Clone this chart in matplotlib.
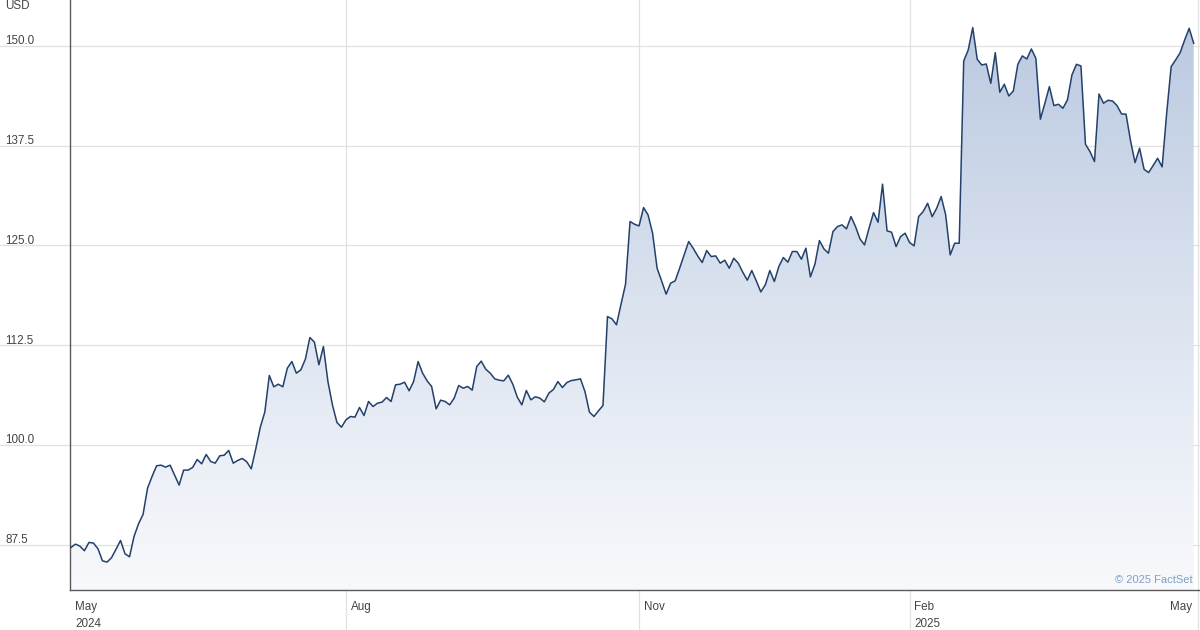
import matplotlib
matplotlib.use('Agg')

import matplotlib.pyplot as plt
import numpy as np
from matplotlib.colors import LinearSegmentedColormap

plt.rcParams['font.family'] = ['Liberation Sans', 'DejaVu Sans']

# daily closes, May 2024 - May 2025
prices = [
    87.13, 87.55, 87.30, 86.72, 87.76, 87.68, 86.97, 85.46, 85.30, 85.84,
    86.90, 88.01, 86.34, 85.96, 88.51, 90.10, 91.27, 94.57, 96.03, 97.37,
    97.45, 97.20, 97.45, 96.20, 94.95, 96.83, 96.83, 97.16, 98.16, 97.62,
    98.79, 97.91, 97.70, 98.62, 98.70, 99.29, 97.70, 98.04, 98.29, 97.87,
    96.99, 99.50, 102.20,
    104.10, 108.69, 107.27, 107.60, 107.27, 109.61, 110.44, 108.98, 109.40, 110.74,
    113.45, 112.87, 110.03, 112.32, 107.93, 105.01, 102.80, 102.21, 103.13, 103.55,
    103.47, 104.68, 103.67, 105.43, 104.80, 105.22, 105.35, 105.93, 105.43, 107.52,
    107.60, 107.85, 106.77, 107.93, 110.44, 108.98, 108.02, 107.31, 104.51, 105.60,
    105.43, 105.01,
    105.85, 107.43, 107.10, 107.31, 106.85, 109.81, 110.49, 109.48, 108.98, 108.27,
    108.10, 108.02, 108.73, 107.60, 105.97, 105.01, 106.81, 105.64, 106.02, 105.85,
    105.39, 106.48, 106.93, 107.93, 107.18, 107.81, 108.06, 108.15, 108.27, 106.68,
    104.10, 103.55, 104.26, 104.93, 116.08, 115.79, 115.04, 117.63, 120.13, 127.99,
    127.65, 127.44, 129.74,
    128.82, 126.53, 122.14, 120.55, 118.88, 120.26, 120.55, 122.14, 123.81, 125.48,
    124.65, 123.68, 122.85, 124.35, 123.60, 123.68, 122.77, 123.14, 122.14, 123.39,
    122.77, 121.64, 120.64, 121.85, 120.55, 119.17, 120.05, 121.85, 120.47, 122.35,
    123.48, 122.89, 124.23, 124.23, 123.27, 124.65, 121.05, 122.64, 125.60, 124.56,
    124.02, 126.73,
    127.36, 127.57, 127.07, 128.61, 127.36, 125.81, 125.06, 127.15, 129.11, 127.90,
    132.67, 126.82, 126.65, 124.85, 126.10, 126.53, 125.35, 124.94, 128.61, 129.24,
    130.28, 128.60, 129.66, 131.12, 128.82, 123.81, 125.27, 125.27, 148.12, 149.50,
    152.30, 148.33, 147.62, 147.74, 145.32, 149.16,
    144.20, 145.20, 143.73, 144.36, 147.70, 148.75, 148.37, 149.62, 148.45, 140.81,
    142.82, 144.90, 142.52, 142.69, 142.19, 143.23, 146.37, 147.70, 147.49, 137.68,
    136.76, 135.51, 143.98, 142.82, 143.19, 143.10, 142.52, 141.48, 141.45, 138.10,
    135.38, 137.18, 134.54, 134.13, 135.00, 135.92, 134.84, 141.50, 147.41, 148.25,
    149.16, 150.75, 152.21, 150.33,
]

# first trading day of each labelled month (index into prices)
month_idx = [0, 61, 126, 186, 250]
month_labels = ["May", "Aug", "Nov", "Feb", "May"]
year_labels = ["2024", "", "", "2025", ""]

y_ticks = [87.5, 100.0, 112.5, 125.0, 137.5, 150.0]

W, H = 1200, 630
fig = plt.figure(figsize=(W / 100, H / 100), dpi=100)
ax = fig.add_axes([70 / W, 40 / H, 1130 / W, 590 / H])

x = np.arange(len(prices))
y = np.array(prices)
ymin, ymax = 81.8, 155.76
ax.set_xlim(-0.2, len(prices) - 1 + 1.4)
ax.set_ylim(ymin, ymax)

# gradient fill under the line
cmap = LinearSegmentedColormap.from_list("fill", ["#f8f9fc", "#dae2ef", "#b8c7df"])
grad = np.linspace(0, 1, 256).reshape(-1, 1)
img = ax.imshow(grad, cmap=cmap, aspect='auto', origin='lower',
                extent=[ax.get_xlim()[0], ax.get_xlim()[1], ymin, ymax], zorder=1)
poly = ax.fill_between(x, y, ymin, color='none', lw=0)
img.set_clip_path(poly.get_paths()[0], transform=ax.transData)

ax.plot(x, y, color='#23416b', lw=1.1, zorder=3)

# grid
gcol = '#e1e1e1'
for v in y_ticks:
    ax.plot([-70 / 1130, 1], [v, v], transform=ax.get_yaxis_transform(),
            color=gcol, lw=0.9, clip_on=False, zorder=0)
    ax.text(-65 / 1130, v + 0.2, f"{v:.1f}", transform=ax.get_yaxis_transform(),
            ha='left', va='baseline', fontsize=8.4, color='#444444')
for i in month_idx[1:]:
    ax.plot([i, i], [-40 / 590, 1], transform=ax.get_xaxis_transform(),
            color=gcol, lw=0.9, clip_on=False, zorder=0)

last = len(month_idx) - 1
for k, (i, m, yr) in enumerate(zip(month_idx, month_labels, year_labels)):
    if k == last:
        ax.text(i - 1.4, -17 / 590, m, transform=ax.get_xaxis_transform(),
                ha='right', va='center', fontsize=8.4, color='#444444')
        continue
    ax.text(i + 1.0, -17 / 590, m, transform=ax.get_xaxis_transform(),
            ha='left', va='center', fontsize=8.4, color='#444444')
    if yr:
        ax.text(i + 1.0, -34 / 590, yr, transform=ax.get_xaxis_transform(),
                ha='left', va='center', fontsize=8.4, color='#444444')

fig.text(5 / W, 1 - 6 / H, "USD", ha='left', va='center', fontsize=8.4, color='#444444')
ax.text(1 - 7 / 1130, 10 / 590, "© 2025 FactSet", transform=ax.transAxes,
        ha='right', va='center', fontsize=8, color='#7f9fc8')

ax.set_xticks([])
ax.set_yticks([])
for s in ['top', 'right']:
    ax.spines[s].set_visible(False)
for s in ['left', 'bottom']:
    ax.spines[s].set_color('#5a5a5a')
    ax.spines[s].set_linewidth(1.0)

fig.savefig("out.png", dpi=100)
